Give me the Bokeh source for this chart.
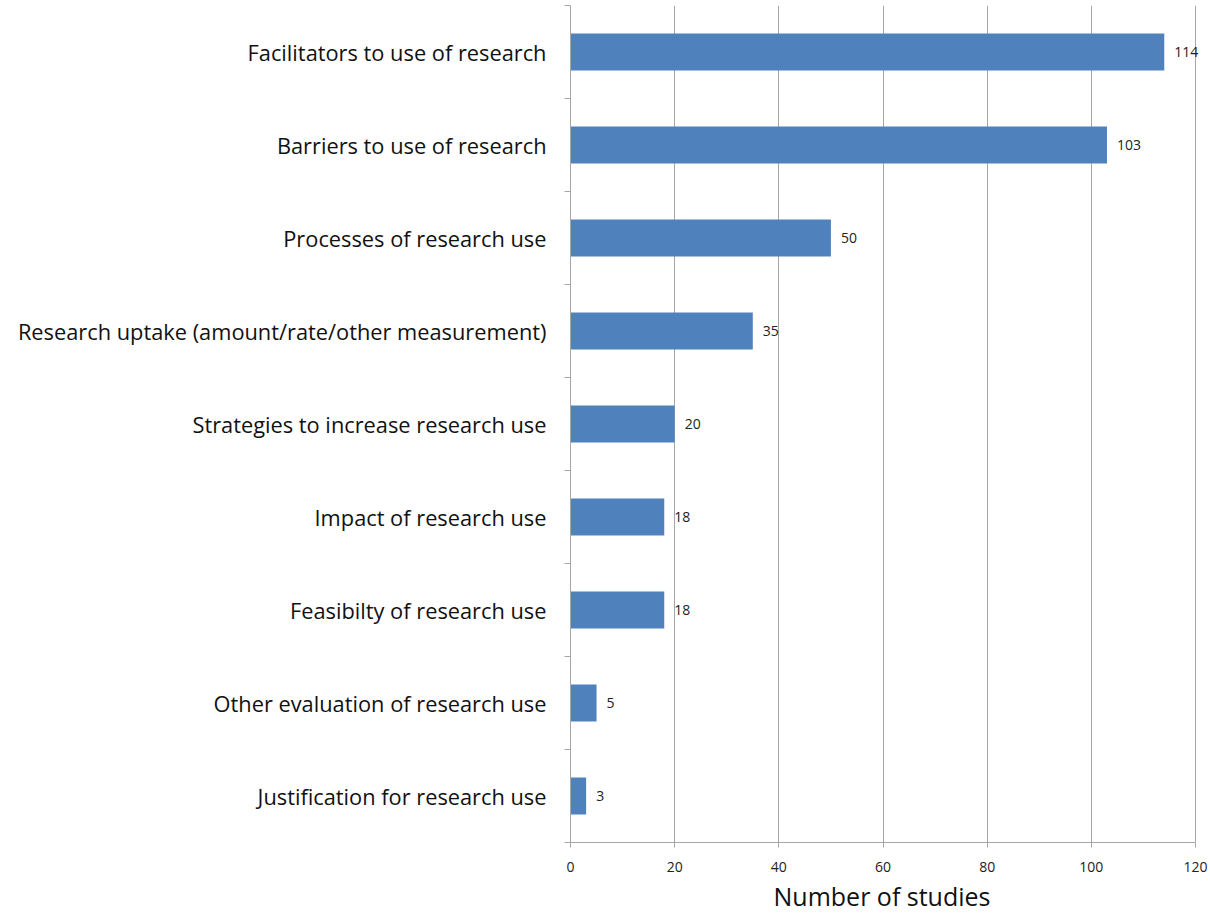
from bokeh.plotting import figure
from bokeh.models import Range1d, FixedTicker, LinearAxis, ColumnDataSource, Label, Title
from bokeh.embed import file_html
from bokeh.resources import INLINE

categories = [
    "Facilitators to use of research",
    "Barriers to use of research",
    "Processes of research use",
    "Research uptake (amount/rate/other measurement)",
    "Strategies to increase research use",
    "Impact of research use",
    "Feasibilty of research use",
    "Other evaluation of research use",
    "Justification for research use",
]
values = [114, 103, 50, 35, 20, 18, 18, 5, 3]
x_ticks = [0, 20, 40, 60, 80, 100, 120]

n = len(categories)
ypos = [n - 0.5 - i for i in range(n)]
src = ColumnDataSource(dict(y=ypos, v=values))

FONT = "Open Sans"
GRID = "#a6a6a6"

# frame spans 640 px; 120 units should span 625 px so the value labels can extend past 120
x_end = 120 * 640 / 625

p = figure(width=1210, height=914, output_backend="svg", toolbar_location=None,
           x_range=Range1d(0, x_end), y_range=Range1d(0, n),
           min_border_left=570, min_border_right=0, min_border_top=5, min_border_bottom=0,
           y_axis_location=None)
p.outline_line_color = None
p.background_fill_color = "white"

p.hbar(y="y", right="v", left=0, height=0.4, source=src, fill_color="#4f81bd", line_color=None)

for v, y in zip(values, ypos):
    p.add_layout(Label(x=v, y=y, text=str(v), x_offset=10, y_offset=0,
                       text_baseline="middle", text_font=FONT, text_font_size="14px",
                       text_color="#222222"))

# x axis
p.xaxis.ticker = FixedTicker(ticks=x_ticks)
p.xaxis.bounds = (x_ticks[0], x_ticks[-1])
p.xaxis.major_label_text_font = FONT
p.xaxis.major_label_text_font_size = "14px"
p.xaxis.major_label_text_color = "#222222"
p.xaxis.major_label_standoff = 14
p.xaxis.axis_line_color = GRID
p.xaxis.major_tick_line_color = GRID
p.xaxis.major_tick_out = 5
p.xaxis.major_tick_in = 0
p.xaxis.minor_tick_line_color = None

xtitle = Title(text="Number of studies", align="left", offset=203,
               text_font=FONT, text_font_size="25px", text_font_style="normal",
               text_color="#111111", standoff=4)
p.add_layout(xtitle, "below")

p.xgrid.ticker = FixedTicker(ticks=x_ticks)
p.xgrid.grid_line_color = GRID
p.ygrid.grid_line_color = None

# y axis with boundary ticks
yb = LinearAxis(ticker=FixedTicker(ticks=list(range(n + 1))),
                major_label_overrides={i: "" for i in range(n + 1)},
                axis_line_color=GRID, major_tick_line_color=GRID,
                major_tick_out=6, major_tick_in=0, minor_tick_line_color=None,
                major_label_text_font_size="1px", major_label_standoff=0)
p.add_layout(yb, "left")

# y axis with category labels
yl = LinearAxis(ticker=FixedTicker(ticks=ypos),
                major_label_overrides={y: c for y, c in zip(ypos, categories)},
                axis_line_color=None, major_tick_line_color=None, minor_tick_line_color=None,
                major_label_text_font=FONT, major_label_text_font_size="21.8px",
                major_label_text_color="#111111", major_label_standoff=12)
p.add_layout(yl, "left")

open("out.html", "w").write(file_html(p, INLINE))
